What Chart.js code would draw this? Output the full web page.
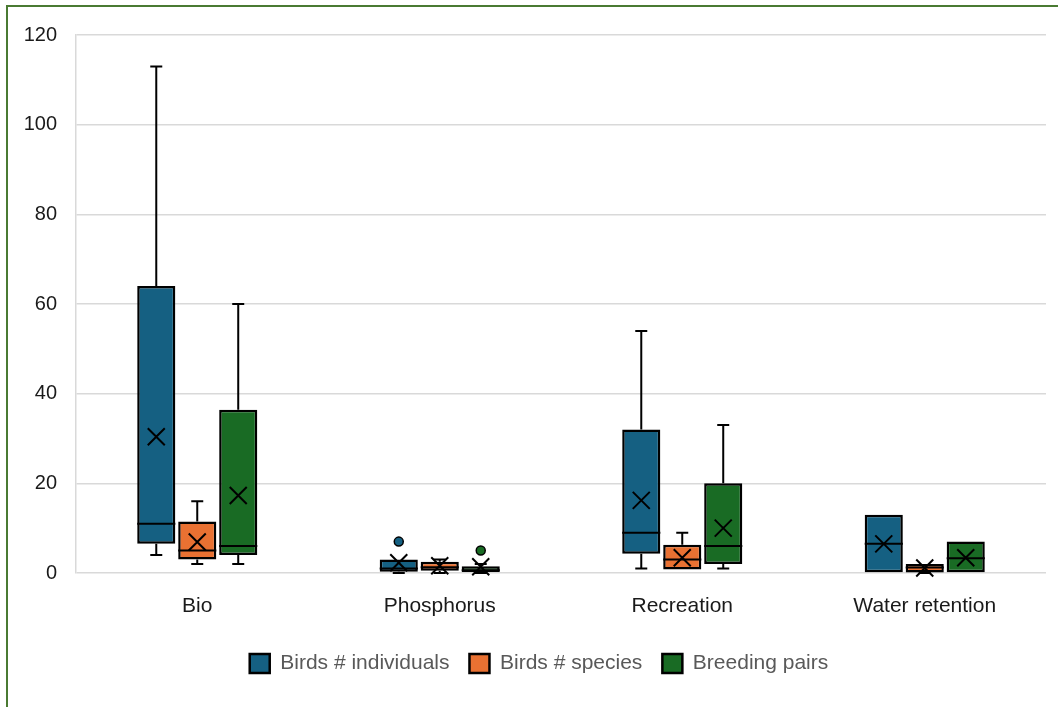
<!DOCTYPE html>
<html>
<head>
<meta charset="utf-8">
<script src="https://cdn.jsdelivr.net/npm/chart.js@4.4.1/dist/chart.umd.min.js"></script>
<style>
  html, body { margin: 0; padding: 0; background: #ffffff; overflow: hidden; }
  #frame { position: absolute; left: 6px; top: 5px; width: 1100px; height: 760px; border: 2px solid #4a7a32; box-sizing: border-box; background: #ffffff; }
  #wrap { position: absolute; left: 0; top: 0; width: 1058px; height: 707px; }
</style>
</head>
<body>
<div id="frame"></div>
<div id="wrap"><canvas id="c" width="1058" height="707"></canvas></div>
<script>
// ---- Data ----
const categories = ['Bio', 'Phosphorus', 'Recreation', 'Water retention'];
const seriesNames = ['Birds # individuals', 'Birds # species', 'Breeding pairs'];
const yTicks = [0, 20, 40, 60, 80, 100, 120];

const indivMin      = [4,    0,   1,    0];
const indivQ1       = [6.5,  0.3, 4.3,  0];
const indivMedian   = [11,   1,   9,    6.5];
const indivQ3       = [64,   3,   32,   13];
const indivMax      = [113,  3,   54,   13];
const indivMean     = [30.4, 2.3, 16.2, 6.5];
const indivOutliers = [[],   [7], [],   []];

const speciesMin      = [2,   0,   0.8, 0];
const speciesQ1       = [3,   0.5, 0.8, 0.1];
const speciesMedian   = [5,   1.3, 3,   1.2];
const speciesQ3       = [11.5,2.5, 6.3, 2];
const speciesMax      = [16,  3,   9,   2];
const speciesMean     = [6.9, 1.6, 3.4, 1.1];
const speciesOutliers = [[],  [],  [],  []];

const pairsMin      = [2,    0,   1,   0];
const pairsQ1       = [4,    0.2, 2,   0];
const pairsMedian   = [6,    0.6, 6,   3.3];
const pairsQ3       = [36.4, 1.5, 20,  7];
const pairsMax      = [60,   2,   33,  7];
const pairsMean     = [17.3, 1.4, 10,  3.4];
const pairsOutliers = [[],   [5], [],  []];

const colors = ['#156082', '#E97132', '#196B24'];

const stats = [
  {min: indivMin, q1: indivQ1, med: indivMedian, q3: indivQ3, max: indivMax, mean: indivMean, out: indivOutliers},
  {min: speciesMin, q1: speciesQ1, med: speciesMedian, q3: speciesQ3, max: speciesMax, mean: speciesMean, out: speciesOutliers},
  {min: pairsMin, q1: pairsQ1, med: pairsMedian, q3: pairsQ3, max: pairsMax, mean: pairsMean, out: pairsOutliers}
];

const datasets = stats.map((s, k) => ({
  label: seriesNames[k],
  data: categories.map((c, i) => [s.q1[i], s.q3[i]]),
  backgroundColor: colors[k],
  borderColor: '#000000',
  borderWidth: 2.5,
  borderSkipped: false,
  categoryPercentage: 0.507,
  barPercentage: 0.93,
  clip: false
}));

const boxPlugin = {
  id: 'boxExtras',
  afterLayout(chart) {
    if (chart.legend) { chart.legend.left += 16; chart.legend.right += 16; }
  },
  beforeDatasetsDraw(chart) {
    const ctx = chart.ctx, y = chart.scales.y;
    ctx.save();
    ctx.strokeStyle = '#000';
    ctx.lineWidth = 2;
    chart.data.datasets.forEach((ds, k) => {
      const meta = chart.getDatasetMeta(k);
      const s = stats[k];
      meta.data.forEach((el, i) => {
        const x = el.x, cap = 6;
        const yMax = y.getPixelForValue(s.max[i]), yQ3 = y.getPixelForValue(s.q3[i]);
        const yMin = y.getPixelForValue(s.min[i]), yQ1 = y.getPixelForValue(s.q1[i]);
        ctx.beginPath();
        if (s.max[i] > s.q3[i]) {
          ctx.moveTo(x, yQ3); ctx.lineTo(x, yMax);
          ctx.moveTo(x - cap, yMax); ctx.lineTo(x + cap, yMax);
        }
        if (s.min[i] < s.q1[i]) {
          ctx.moveTo(x, yQ1); ctx.lineTo(x, yMin);
          ctx.moveTo(x - cap, yMin); ctx.lineTo(x + cap, yMin);
        }
        ctx.stroke();
      });
    });
    ctx.restore();
  },
  afterDatasetsDraw(chart) {
    const ctx = chart.ctx, y = chart.scales.y;
    ctx.save();
    chart.data.datasets.forEach((ds, k) => {
      const meta = chart.getDatasetMeta(k);
      const s = stats[k];
      meta.data.forEach((el, i) => {
        const x = el.x, w = el.width;
        ctx.strokeStyle = '#000';
        ctx.lineWidth = 2;
        const ym = y.getPixelForValue(s.med[i]);
        ctx.beginPath();
        ctx.moveTo(x - w / 2, ym); ctx.lineTo(x + w / 2, ym);
        ctx.stroke();
        const ya = y.getPixelForValue(s.mean[i]), r = 8.5;
        ctx.beginPath();
        ctx.moveTo(x - r, ya - r); ctx.lineTo(x + r, ya + r);
        ctx.moveTo(x + r, ya - r); ctx.lineTo(x - r, ya + r);
        ctx.stroke();
        s.out[i].forEach(v => {
          const yo = y.getPixelForValue(v);
          ctx.beginPath();
          ctx.arc(x, yo, 4.5, 0, Math.PI * 2);
          ctx.fillStyle = colors[k];
          ctx.fill();
          ctx.lineWidth = 1.5;
          ctx.stroke();
        });
      });
    });
    ctx.restore();
  }
};

new Chart(document.getElementById('c'), {
  type: 'bar',
  data: { labels: categories, datasets },
  plugins: [boxPlugin],
  options: {
    responsive: false,
    animation: false,
    layout: { padding: { left: 0, right: 12, top: 35, bottom: 23 } },
    plugins: {
      tooltip: { enabled: false },
      legend: {
        position: 'bottom',
        labels: {
          boxWidth: 20,
          boxHeight: 19,
          padding: 20,
          color: '#595959',
          font: { family: 'Liberation Sans', size: 21 },
          generateLabels(chart) {
            return seriesNames.map((n, k) => ({
              text: n, fillStyle: colors[k], strokeStyle: '#000', lineWidth: 2.5,
              fontColor: '#595959', datasetIndex: k, hidden: false
            }));
          }
        }
      }
    },
    scales: {
      x: {
        grid: { display: false, drawTicks: false },
        border: { display: false },
        ticks: { color: '#1a1a1a', font: { family: 'Liberation Sans', size: 21 }, padding: 21 },
        afterFit(scale) { scale.height = 60; }
      },
      y: {
        min: 0, max: 120,
        afterBuildTicks(scale) { scale.ticks = yTicks.map(v => ({ value: v })); },
        grid: { color: '#d9d9d9', lineWidth: 1.5, drawTicks: false },
        border: { display: true, color: '#d9d9d9', width: 1.5 },
        ticks: { color: '#1a1a1a', font: { family: 'Liberation Sans', size: 20 }, padding: 19 },
        afterFit(scale) { scale.width = 76; }
      }
    }
  }
});
</script>
</body>
</html>
